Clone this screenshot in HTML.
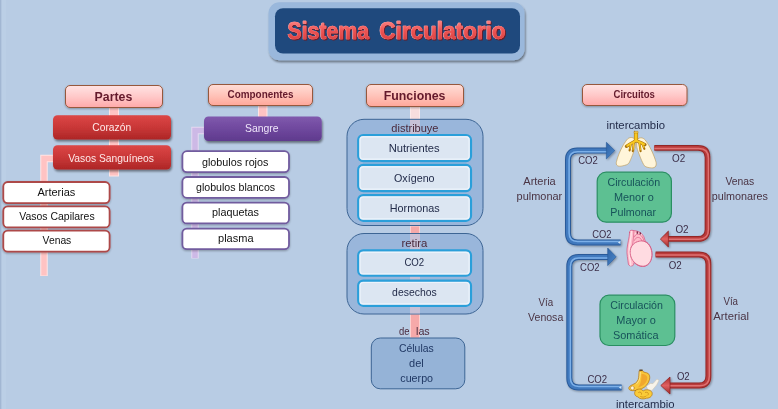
<!DOCTYPE html>
<html><head><meta charset="utf-8"><title>Sistema Circulatorio</title>
<style>
html,body{margin:0;padding:0;background:#b8cce4;}
body{width:778px;height:409px;overflow:hidden;font-family:"Liberation Sans",sans-serif;}
svg{display:block;font-family:"Liberation Sans",sans-serif;will-change:transform;}
</style></head><body>
<svg width="778" height="409" viewBox="0 0 778 409">
<defs>
<linearGradient id="gEdge" x1="0" x2="1" y1="0" y2="0"><stop offset="0" stop-color="#9fb5d2"/><stop offset="0.25" stop-color="#b3c7e0"/><stop offset="1" stop-color="#b8cce4"/></linearGradient>
<linearGradient id="gPink" x1="0" x2="0" y1="0" y2="1"><stop offset="0" stop-color="#ffe3e3"/><stop offset="0.5" stop-color="#ffc9c9"/><stop offset="1" stop-color="#ffa9a9"/></linearGradient>
<linearGradient id="gSalmon" x1="0" x2="0" y1="0" y2="1"><stop offset="0" stop-color="#ffddd6"/><stop offset="0.5" stop-color="#ffc4ba"/><stop offset="1" stop-color="#ffa79a"/></linearGradient>
<linearGradient id="gRed" x1="0" x2="0" y1="0" y2="1"><stop offset="0" stop-color="#dc4646"/><stop offset="0.5" stop-color="#c93737"/><stop offset="1" stop-color="#ad2626"/></linearGradient>
<linearGradient id="gPurple" x1="0" x2="0" y1="0" y2="1"><stop offset="0" stop-color="#8059ad"/><stop offset="0.5" stop-color="#6f489e"/><stop offset="1" stop-color="#5f3a8d"/></linearGradient>
<linearGradient id="gTitle" x1="0" x2="0" y1="0" y2="1"><stop offset="0" stop-color="#ff8f8f"/><stop offset="0.45" stop-color="#ee5555"/><stop offset="1" stop-color="#d23a3a"/></linearGradient>
<linearGradient id="gBlueV" x1="0" x2="1" y1="0" y2="0"><stop offset="0" stop-color="#2c5c9c"/><stop offset="0.5" stop-color="#4a84c6"/><stop offset="1" stop-color="#7fb2ea"/></linearGradient>
<linearGradient id="gArB" x1="0" x2="1" y1="0" y2="1"><stop offset="0" stop-color="#2f63a5"/><stop offset="1" stop-color="#4c88cc"/></linearGradient>
<linearGradient id="gArR" x1="0" x2="0" y1="0" y2="1"><stop offset="0" stop-color="#a82e2e"/><stop offset="0.5" stop-color="#e06060"/><stop offset="1" stop-color="#a02a2a"/></linearGradient>
<filter id="sh" x="-10%" y="-20%" width="120%" height="150%"><feGaussianBlur in="SourceAlpha" stdDeviation="1.2"/><feOffset dx="0.5" dy="1.5"/><feComponentTransfer><feFuncA type="linear" slope="0.45"/></feComponentTransfer><feMerge><feMergeNode/><feMergeNode in="SourceGraphic"/></feMerge></filter>
<filter id="shS" x="-10%" y="-20%" width="120%" height="150%"><feGaussianBlur in="SourceAlpha" stdDeviation="0.8"/><feOffset dx="0.3" dy="1"/><feComponentTransfer><feFuncA type="linear" slope="0.3"/></feComponentTransfer><feMerge><feMergeNode/><feMergeNode in="SourceGraphic"/></feMerge></filter>
<filter id="shP" x="-10%" y="-10%" width="120%" height="120%"><feGaussianBlur in="SourceAlpha" stdDeviation="0.9"/><feOffset dx="0.6" dy="1"/><feComponentTransfer><feFuncA type="linear" slope="0.35"/></feComponentTransfer><feMerge><feMergeNode/><feMergeNode in="SourceGraphic"/></feMerge></filter>
<filter id="blur1" x="-20%" y="-20%" width="140%" height="140%"><feGaussianBlur stdDeviation="0.45"/></filter>
</defs>
<rect x="0" y="0" width="778" height="409" fill="#b8cce4"/>
<rect x="0" y="0" width="1" height="409" fill="#a2b7d3"/><rect x="1" y="0" width="1" height="409" fill="#b2c6df"/><rect x="2" y="0" width="4" height="409" fill="#bbcfe6"/>

<g filter="url(#sh)"><rect x="268.5" y="2.2" width="256" height="58" rx="11" fill="#9ab8dc"/></g>
<rect x="275" y="8.2" width="245" height="45.4" rx="8" fill="#1f497d"/>
<text x="288.20" y="40.20" font-size="23.5" fill="#6e1a24" font-weight="bold" textLength="81.70" lengthAdjust="spacingAndGlyphs" stroke="#6e1a24" stroke-width="0.8" stroke-linejoin="round">Sistema</text>
<text x="287.20" y="39.00" font-size="23.5" fill="#ffb0b0" font-weight="bold" textLength="81.60" lengthAdjust="spacingAndGlyphs" stroke="#ffb0b0" stroke-width="0.6" stroke-linejoin="round">Sistema</text>
<text x="287.60" y="39.40" font-size="23.5" fill="url(#gTitle)" font-weight="bold" textLength="81.50" lengthAdjust="spacingAndGlyphs" stroke="url(#gTitle)" stroke-width="0.5" stroke-linejoin="round">Sistema</text>
<text x="380.00" y="40.20" font-size="23.5" fill="#6e1a24" font-weight="bold" textLength="126.44" lengthAdjust="spacingAndGlyphs" stroke="#6e1a24" stroke-width="0.8" stroke-linejoin="round">Circulatorio</text>
<text x="379.00" y="39.00" font-size="23.5" fill="#ffb0b0" font-weight="bold" textLength="126.34" lengthAdjust="spacingAndGlyphs" stroke="#ffb0b0" stroke-width="0.6" stroke-linejoin="round">Circulatorio</text>
<text x="379.40" y="39.40" font-size="23.5" fill="url(#gTitle)" font-weight="bold" textLength="126.24" lengthAdjust="spacingAndGlyphs" stroke="url(#gTitle)" stroke-width="0.5" stroke-linejoin="round">Circulatorio</text>
<rect x="109.5" y="107" width="9" height="69" fill="#ffc3c3" stroke="#ffe4e4" stroke-width="1"/>
<path d="M53.5 158.5 H44 V276" fill="none" stroke="#ffe4e4" stroke-width="7.5"/>
<path d="M53.5 158.5 H44 V275.5" fill="none" stroke="#ffc3c3" stroke-width="5.5"/>
<rect x="258.5" y="105" width="8.5" height="13" fill="#ffc3c3" stroke="#ffe4e4" stroke-width="1"/>
<path d="M204.5 130.5 H195 V258.5" fill="none" stroke="#e4d8f0" stroke-width="7.5"/>
<path d="M204.5 130.5 H195 V258" fill="none" stroke="#cdb9e6" stroke-width="5.5"/>
<rect x="410.5" y="106" width="9" height="14" fill="#f7dede" stroke="#fbeaea" stroke-width="1"/>
<rect x="410.5" y="226" width="9" height="8" fill="#f6a9a9" stroke="#fbd0d0" stroke-width="1"/>
<rect x="410.5" y="314" width="9" height="24" fill="#f6a9a9" stroke="#fbd0d0" stroke-width="1"/>
<g filter="url(#shS)"><rect x="65.5" y="85.5" width="97" height="22" rx="4.5" fill="url(#gPink)" stroke="#96583c" stroke-width="1"/></g>
<text x="94.60" y="101.15" font-size="12" fill="#641a2c" font-weight="bold" textLength="37.67" lengthAdjust="spacingAndGlyphs">Partes</text>
<g filter="url(#shS)"><rect x="208.5" y="84.5" width="104" height="21" rx="4.5" fill="url(#gSalmon)" stroke="#96583c" stroke-width="1"/></g>
<text x="227.50" y="98.00" font-size="11.2" fill="#641a2c" font-weight="bold" textLength="66.12" lengthAdjust="spacingAndGlyphs">Componentes</text>
<g filter="url(#shS)"><rect x="366.5" y="84.5" width="97" height="22" rx="4.5" fill="url(#gSalmon)" stroke="#96583c" stroke-width="1"/></g>
<text x="383.70" y="100.35" font-size="12.6" fill="#641a2c" font-weight="bold" textLength="61.81" lengthAdjust="spacingAndGlyphs">Funciones</text>
<g filter="url(#shS)"><rect x="582.5" y="84.5" width="104.5" height="21" rx="4.5" fill="url(#gPink)" stroke="#96583c" stroke-width="1"/></g>
<text x="613.50" y="98.15" font-size="11.3" fill="#641a2c" font-weight="bold" textLength="41.39" lengthAdjust="spacingAndGlyphs">Circuitos</text>
<g filter="url(#sh)"><rect x="53" y="115.2" width="118" height="24.3" rx="4.5" fill="url(#gRed)"/></g>
<text x="92.30" y="131.25" font-size="11" fill="#ffe9e9" textLength="38.80" lengthAdjust="spacingAndGlyphs">Corazón</text>
<g filter="url(#sh)"><rect x="53" y="145.2" width="118" height="24.3" rx="4.5" fill="url(#gRed)"/></g>
<text x="68.20" y="161.95" font-size="11" fill="#ffe9e9" textLength="85.81" lengthAdjust="spacingAndGlyphs">Vasos Sanguíneos</text>
<g filter="url(#sh)"><rect x="204" y="116.5" width="117.7" height="24.5" rx="4.5" fill="url(#gPurple)"/></g>
<text x="245.00" y="132.00" font-size="11" fill="#efe6fa" textLength="33.60" lengthAdjust="spacingAndGlyphs">Sangre</text>
<g filter="url(#shS)"><rect x="3.3" y="182.0" width="106.3" height="21.1" rx="4.5" fill="#ffffff" stroke="#ad4848" stroke-width="1.8"/></g>
<g filter="url(#shS)"><rect x="3.3" y="206.4" width="106.3" height="21.0" rx="4.5" fill="#ffffff" stroke="#ad4848" stroke-width="1.8"/></g>
<g filter="url(#shS)"><rect x="3.3" y="230.6" width="106.3" height="21.1" rx="4.5" fill="#ffffff" stroke="#ad4848" stroke-width="1.8"/></g>
<text x="37.40" y="196.35" font-size="11" fill="#111" textLength="37.91" lengthAdjust="spacingAndGlyphs">Arterias</text>
<text x="19.30" y="220.25" font-size="11" fill="#111" textLength="75.32" lengthAdjust="spacingAndGlyphs">Vasos Capilares</text>
<text x="42.60" y="244.15" font-size="11" fill="#111" textLength="28.70" lengthAdjust="spacingAndGlyphs">Venas</text>
<g filter="url(#shS)"><rect x="182.4" y="151.2" width="106.6" height="20.9" rx="4.5" fill="#ffffff" stroke="#715b9e" stroke-width="1.8"/></g>
<g filter="url(#shS)"><rect x="182.4" y="177.0" width="106.6" height="20.8" rx="4.5" fill="#ffffff" stroke="#715b9e" stroke-width="1.8"/></g>
<g filter="url(#shS)"><rect x="182.4" y="202.6" width="106.6" height="20.8" rx="4.5" fill="#ffffff" stroke="#715b9e" stroke-width="1.8"/></g>
<g filter="url(#shS)"><rect x="182.4" y="228.6" width="106.6" height="20.6" rx="4.5" fill="#ffffff" stroke="#715b9e" stroke-width="1.8"/></g>
<text x="201.90" y="165.75" font-size="11" fill="#111" textLength="66.51" lengthAdjust="spacingAndGlyphs">globulos rojos</text>
<text x="196.00" y="191.25" font-size="11" fill="#111" textLength="79.10" lengthAdjust="spacingAndGlyphs">globulos blancos</text>
<text x="212.10" y="215.55" font-size="11" fill="#111" textLength="46.82" lengthAdjust="spacingAndGlyphs">plaquetas</text>
<text x="218.00" y="241.85" font-size="11" fill="#111" textLength="35.53" lengthAdjust="spacingAndGlyphs">plasma</text>
<rect x="347" y="119.3" width="136" height="106.2" rx="17" fill="#8fafd8" fill-opacity="0.75" stroke="#3d6594" stroke-width="1"/>
<rect x="347" y="233.5" width="136" height="80.5" rx="17" fill="#8fafd8" fill-opacity="0.75" stroke="#3d6594" stroke-width="1"/>
<rect x="410" y="120" width="10" height="105" fill="#d8c4d4" opacity="0.75"/>
<rect x="410" y="234" width="10" height="79.5" fill="#d8c4d4" opacity="0.75"/>
<rect x="358.2" y="135.0" width="112.8" height="26.1" rx="5" fill="#dce6f2" stroke="#2a9fda" stroke-width="2.2"/><rect x="360.1" y="136.9" width="109" height="22.3" rx="3.4" fill="none" stroke="#ecf3fb" stroke-width="1.2"/>
<rect x="358.2" y="164.9" width="112.8" height="26.2" rx="5" fill="#dce6f2" stroke="#2a9fda" stroke-width="2.2"/><rect x="360.1" y="166.8" width="109" height="22.4" rx="3.4" fill="none" stroke="#ecf3fb" stroke-width="1.2"/>
<rect x="358.2" y="195.1" width="112.8" height="25.7" rx="5" fill="#dce6f2" stroke="#2a9fda" stroke-width="2.2"/><rect x="360.1" y="197.0" width="109" height="21.9" rx="3.4" fill="none" stroke="#ecf3fb" stroke-width="1.2"/>
<rect x="358.2" y="250.4" width="112.8" height="25.3" rx="5" fill="#dce6f2" stroke="#2a9fda" stroke-width="2.2"/><rect x="360.1" y="252.3" width="109" height="21.5" rx="3.4" fill="none" stroke="#ecf3fb" stroke-width="1.2"/>
<rect x="358.2" y="280.6" width="112.8" height="25.2" rx="5" fill="#dce6f2" stroke="#2a9fda" stroke-width="2.2"/><rect x="360.1" y="282.5" width="109" height="21.4" rx="3.4" fill="none" stroke="#ecf3fb" stroke-width="1.2"/>
<text x="391.30" y="132.25" font-size="11" fill="#4a2a3c" textLength="47.20" lengthAdjust="spacingAndGlyphs">distribuye</text>
<text x="388.70" y="152.00" font-size="11" fill="#232c4a" textLength="50.97" lengthAdjust="spacingAndGlyphs">Nutrientes</text>
<text x="394.00" y="182.05" font-size="11" fill="#232c4a" textLength="40.60" lengthAdjust="spacingAndGlyphs">Oxígeno</text>
<text x="389.80" y="212.25" font-size="11" fill="#232c4a" textLength="49.88" lengthAdjust="spacingAndGlyphs">Hormonas</text>
<text x="401.40" y="247.25" font-size="11" fill="#4a2a3c" textLength="25.98" lengthAdjust="spacingAndGlyphs">retira</text>
<text x="404.40" y="266.00" font-size="11" fill="#232c4a" textLength="19.81" lengthAdjust="spacingAndGlyphs">CO2</text>
<text x="392.10" y="296.25" font-size="11" fill="#232c4a" textLength="44.61" lengthAdjust="spacingAndGlyphs">desechos</text>
<text x="399.00" y="335.25" font-size="11" fill="#4a2a3c" textLength="10.52" lengthAdjust="spacingAndGlyphs">de</text>
<text x="416.00" y="335.25" font-size="11" fill="#4a2a3c" textLength="13.68" lengthAdjust="spacingAndGlyphs">las</text>
<rect x="371.3" y="338" width="93.5" height="50.8" rx="9" fill="#95b3d7" stroke="#3d6594" stroke-width="1"/>
<text x="399.00" y="352.00" font-size="11" fill="#203864" textLength="34.70" lengthAdjust="spacingAndGlyphs">Células</text>
<text x="409.10" y="367.20" font-size="11" fill="#203864" textLength="14.69" lengthAdjust="spacingAndGlyphs">del</text>
<text x="400.30" y="381.85" font-size="11" fill="#203864" textLength="32.78" lengthAdjust="spacingAndGlyphs">cuerpo</text>
<g filter="url(#shP)">
<path d="M620.6 242.5 H577.5 Q568 242.5 568 233.0 V160.1 Q568 150.6 577.5 150.6 H607" fill="none" stroke="#2a5a99" stroke-width="6.0" stroke-linejoin="round"/><path d="M620.6 242.5 H577.5 Q568 242.5 568 233.0 V160.1 Q568 150.6 577.5 150.6 H607" fill="none" stroke="#3f79be" stroke-width="4.0" stroke-linejoin="round" filter="url(#blur1)"/><path d="M620.6 241.4 H577.5 Q569.1 241.4 569.1 233.0 V160.1 Q569.1 151.7 577.5 151.7 H607" fill="none" stroke="#82b6ee" stroke-width="1.5" stroke-linejoin="round" opacity="0.9" filter="url(#blur1)"/>
<polygon points="606.4,142.3 614.8,150.6 606.4,158.9" fill="url(#gArB)" stroke="#2a5a99" stroke-width="0.6"/>
<path d="M621.6 387.5 H578.8 Q569.3 387.5 569.3 378.0 V266.5 Q569.3 257 578.8 257 H608" fill="none" stroke="#2a5a99" stroke-width="6.0" stroke-linejoin="round"/><path d="M621.6 387.5 H578.8 Q569.3 387.5 569.3 378.0 V266.5 Q569.3 257 578.8 257 H608" fill="none" stroke="#3f79be" stroke-width="4.0" stroke-linejoin="round" filter="url(#blur1)"/><path d="M621.6 386.4 H578.8 Q570.4 386.4 570.4 378.0 V266.5 Q570.4 258.1 578.8 258.1 H608" fill="none" stroke="#82b6ee" stroke-width="1.5" stroke-linejoin="round" opacity="0.9" filter="url(#blur1)"/>
<polygon points="607.7,248 616.1,256.8 607.7,265.5" fill="url(#gArB)" stroke="#2a5a99" stroke-width="0.6"/>
<polygon points="617.8,242.5 620.4,241 620.4,244" fill="#cfe2f7"/>
<polygon points="618.8,387.5 621.4,386 621.4,389" fill="#cfe2f7"/>
<path d="M654.3 147.8 H698.0 Q707.5 147.8 707.5 157.3 V229.4 Q707.5 238.9 698.0 238.9 H668" fill="none" stroke="#942828" stroke-width="5.7" stroke-linejoin="round"/><path d="M654.3 147.8 H698.0 Q707.5 147.8 707.5 157.3 V229.4 Q707.5 238.9 698.0 238.9 H668" fill="none" stroke="#ba3a3a" stroke-width="3.7" stroke-linejoin="round" filter="url(#blur1)"/><path d="M654.3 148.4 H698.9 Q708.4 148.4 708.4 157.9 V229.70000000000002 Q708.4 239.20000000000002 698.9 239.20000000000002 H668" fill="none" stroke="#e27878" stroke-width="1.5" stroke-linejoin="round" opacity="0.9" filter="url(#blur1)"/>
<polygon points="668.4,231.1 660.4,239 668.4,247.1" fill="url(#gArR)" stroke="#8e2222" stroke-width="0.7"/>
<path d="M655.6 254.5 H698.9 Q708.4 254.5 708.4 264.0 V376.0 Q708.4 385.5 698.9 385.5 H669.5" fill="none" stroke="#942828" stroke-width="5.9" stroke-linejoin="round"/><path d="M655.6 254.5 H698.9 Q708.4 254.5 708.4 264.0 V376.0 Q708.4 385.5 698.9 385.5 H669.5" fill="none" stroke="#ba3a3a" stroke-width="3.9000000000000004" stroke-linejoin="round" filter="url(#blur1)"/><path d="M655.6 255.1 H699.8 Q709.3 255.1 709.3 264.6 V376.3 Q709.3 385.8 699.8 385.8 H669.5" fill="none" stroke="#e27878" stroke-width="1.5" stroke-linejoin="round" opacity="0.9" filter="url(#blur1)"/>
<polygon points="670,377 660.8,385.5 670,394" fill="url(#gArR)" stroke="#8e2222" stroke-width="0.7"/>
</g>
<rect x="597.2" y="172.2" width="74.2" height="50" rx="9" fill="#5dc092" stroke="#2a8f62" stroke-width="1.2"/>
<rect x="600" y="295.2" width="74.8" height="50.3" rx="9" fill="#5dc092" stroke="#2a8f62" stroke-width="1.2"/>
<text x="607.50" y="186.25" font-size="11" fill="#17525a" textLength="52.62" lengthAdjust="spacingAndGlyphs">Circulación</text>
<text x="613.90" y="201.25" font-size="11" fill="#17525a" textLength="39.98" lengthAdjust="spacingAndGlyphs">Menor o</text>
<text x="610.30" y="215.95" font-size="11" fill="#17525a" textLength="45.80" lengthAdjust="spacingAndGlyphs">Pulmonar</text>
<text x="610.30" y="309.35" font-size="11" fill="#17525a" textLength="52.62" lengthAdjust="spacingAndGlyphs">Circulación</text>
<text x="616.30" y="324.25" font-size="11" fill="#17525a" textLength="39.53" lengthAdjust="spacingAndGlyphs">Mayor o</text>
<text x="613.00" y="339.25" font-size="11" fill="#17525a" textLength="45.48" lengthAdjust="spacingAndGlyphs">Somática</text>
<text x="606.40" y="128.85" font-size="11" fill="#232c4a" textLength="58.59" lengthAdjust="spacingAndGlyphs">intercambio</text>
<text x="615.90" y="407.55" font-size="11" fill="#232c4a" textLength="58.69" lengthAdjust="spacingAndGlyphs">intercambio</text>
<text x="578.20" y="164.25" font-size="11" fill="#3b2e48" textLength="19.61" lengthAdjust="spacingAndGlyphs">CO2</text>
<text x="672.10" y="162.15" font-size="11" fill="#3b2e48" textLength="13.19" lengthAdjust="spacingAndGlyphs">O2</text>
<text x="592.20" y="238.45" font-size="11" fill="#3b2e48" textLength="19.31" lengthAdjust="spacingAndGlyphs">CO2</text>
<text x="675.40" y="233.35" font-size="11" fill="#3b2e48" textLength="13.19" lengthAdjust="spacingAndGlyphs">O2</text>
<text x="580.10" y="271.00" font-size="11" fill="#3b2e48" textLength="19.51" lengthAdjust="spacingAndGlyphs">CO2</text>
<text x="668.80" y="269.35" font-size="11" fill="#3b2e48" textLength="12.99" lengthAdjust="spacingAndGlyphs">O2</text>
<text x="587.40" y="383.20" font-size="11" fill="#3b2e48" textLength="19.71" lengthAdjust="spacingAndGlyphs">CO2</text>
<text x="676.90" y="380.20" font-size="11" fill="#3b2e48" textLength="12.79" lengthAdjust="spacingAndGlyphs">O2</text>
<text x="523.30" y="185.15" font-size="11" fill="#4a3444" textLength="32.45" lengthAdjust="spacingAndGlyphs">Arteria</text>
<text x="516.60" y="199.55" font-size="11" fill="#4a3444" textLength="45.59" lengthAdjust="spacingAndGlyphs">pulmonar</text>
<text x="725.50" y="185.35" font-size="11" fill="#4a3444" textLength="28.80" lengthAdjust="spacingAndGlyphs">Venas</text>
<text x="711.70" y="199.85" font-size="11" fill="#4a3444" textLength="56.30" lengthAdjust="spacingAndGlyphs">pulmonares</text>
<text x="538.50" y="306.25" font-size="11" fill="#4a3444" textLength="14.66" lengthAdjust="spacingAndGlyphs">Vía</text>
<text x="528.10" y="321.25" font-size="11" fill="#4a3444" textLength="35.16" lengthAdjust="spacingAndGlyphs">Venosa</text>
<text x="723.40" y="305.05" font-size="11" fill="#4a3444" textLength="14.66" lengthAdjust="spacingAndGlyphs">Vía</text>
<text x="713.30" y="320.35" font-size="11" fill="#4a3444" textLength="35.77" lengthAdjust="spacingAndGlyphs">Arterial</text>
<!-- lungs -->
<g id="lungs" stroke-linejoin="round" stroke-linecap="round">
<path d="M634.6 139 C632.6 136.8 629.2 137 627 139.6 C622.3 145.6 618.2 154.5 616.4 162 C615.6 165.8 618.3 166.8 622 166 C625.6 165.2 628.2 164.6 629.2 162.6 C631.2 158.6 633.4 153 634.8 148.4 C635.6 145.4 635.6 141 634.6 139 Z" fill="#fff5da" stroke="#c2a060" stroke-width="0.7" stroke-dasharray="1.6 0.7"/>
<path d="M637.4 139.4 C639.6 137 643 137.4 645.2 140 C649.8 146 653.8 154.5 656 162 C657 166 655 168.2 651.6 167.9 C648 167.6 645.4 167.2 644 165.2 C641.4 160.6 639.2 154.6 637.4 149.4 C636.4 146.4 636.4 141.4 637.4 139.4 Z" fill="#fff5da" stroke="#c2a060" stroke-width="0.7" stroke-dasharray="1.6 0.7"/>
<g fill="none" stroke="#a8720c" stroke-width="4.2">
<path d="M636 132.8 V141" stroke-linecap="butt"/>
<path d="M636 140.6 L630.8 143.6 L626.4 146.4" stroke-width="3.2"/>
<path d="M636 140.6 L641.2 142.8 L645 144.6" stroke-width="3.2"/>
<path d="M630.8 144 L629.6 150.4" stroke-width="2.1"/>
<path d="M633.8 142.6 L632.8 151.2" stroke-width="2.1"/>
<path d="M639.4 142.8 L640.6 151.2" stroke-width="2.1"/>
<path d="M642.4 144 L644.4 148.8" stroke-width="2.1"/>
</g>
<g fill="none" stroke="#f8c820" stroke-width="3">
<path d="M636 132.6 V141" stroke-linecap="butt"/>
<path d="M636 140.6 L630.8 143.6 L627.4 145.7" stroke-width="2.1"/>
<path d="M636 140.6 L641.2 142.8 L644 144.1" stroke-width="2.1"/>
<path d="M630.8 144 L629.9 148.8" stroke-width="1.1"/>
<path d="M633.8 142.6 L633 149.8" stroke-width="1.1"/>
<path d="M639.4 142.8 L640.4 149.8" stroke-width="1.1"/>
<path d="M642.4 144 L643.9 147.6" stroke-width="1.1"/>
</g>
<rect x="633.9" y="131.3" width="4.2" height="1.7" rx="0.6" fill="#fbd95a" stroke="#a8720c" stroke-width="0.5"/>
</g>
<!-- heart -->
<g id="heart" stroke-linejoin="round" stroke-linecap="round">
<path d="M629.6 232.6 C629.4 230.6 630.6 230.1 632 230.3 L634.2 230.6 C638.2 230.8 642 233 643.8 236.6 L645.4 241.4 C649.6 243.6 652.2 248.6 652 254.8 C651.8 262.2 647.4 266.9 642.2 266.5 C639 266.2 636.2 264.8 634 262.4 L633.6 264.6 C633.4 266.4 628.8 266.4 628.4 264.2 C627.8 259 626.6 254 627 249 C627.4 243.6 629.4 238 629.6 232.6 Z" fill="#ffbccb" stroke="#d2527c" stroke-width="0.7"/>
<path d="M633.9 231 C633.6 240 632 246 632.2 252" fill="none" stroke="#d2527c" stroke-width="0.6"/>
<path d="M631.4 231.5 C631.2 240 629 246 629.2 252 C629.4 257 630.4 261 630.8 265.2" fill="none" stroke="#ffe0e6" stroke-width="1.4"/>
<path d="M634.4 236.8 C635.6 233.6 639 233.4 641.2 235.6 C642.8 237.2 643.6 239.2 644 241.2" fill="none" stroke="#d2527c" stroke-width="0.6"/>
<path d="M634.4 240.4 C635.8 237 638.6 236.6 640.4 238.4 C641.4 239.4 641.8 240.4 642 241.4" fill="none" stroke="#d2527c" stroke-width="0.6"/>
<path d="M635 233.8 C637 232.4 640 233 641.8 235" fill="none" stroke="#ffe0e6" stroke-width="1"/>
<rect x="636.6" y="231.4" width="1.5" height="2.4" fill="#7c2848"/>
<rect x="639.6" y="232.4" width="1.4" height="2" fill="#7c2848"/>
<path d="M640.4 241 C646.6 240.2 652 246 651.9 254.8 C651.8 262 647.4 266.6 642.3 266.2 C636.4 265.8 630.4 260.2 630.2 252.6 C630 246 634.2 241.8 640.4 241 Z" fill="#ffdbe1" stroke="#d2527c" stroke-width="0.8" stroke-dasharray="2 0.5"/>
</g>
<!-- stomach -->
<g id="stomach" stroke-linejoin="round" stroke-linecap="round">
<path d="M646.6 386 L650.4 383.4 L653 383.6 L657 379 L659 380.4 L656.6 385 L652 390.4 L648 390 Z" fill="#f7f3ea" stroke="#cfc6b4" stroke-width="0.6"/>
<path d="M639.5 370.8 L642.4 370.6 C643 372 644.6 372.4 646.6 372.8 C649.4 373.4 650.2 376.4 649.6 379.2 C648.6 383.6 645.6 387.2 641.4 388.8 C637.4 390.4 633 391.2 630.6 390.4 C628.6 389.6 628.2 387.8 629.6 386.4 C631 385 633.6 384.4 635.6 383 C638 381.2 638.8 378.6 638.8 375.6 Z" fill="#f9c63a" stroke="#b07414" stroke-width="0.7"/>
<path d="M641.4 374 C644.6 373.8 647.8 375.6 647.2 379 C646.4 383.2 642.6 386.4 637.6 387.6 C640.8 384.6 641.6 380 641.4 374 Z" fill="#ef9f2a" opacity="0.8"/>
<path d="M640.3 372.4 C640 377.5 639.8 381 636.4 384" fill="none" stroke="#fde79a" stroke-width="0.9"/>
<rect x="639.4" y="369.5" width="3.2" height="1.4" fill="#5e4220"/>
<circle cx="632.4" cy="388" r="1.9" fill="#fff7dc" stroke="#b07414" stroke-width="0.5"/>
<path d="M635.4 390.6 C637.4 388.4 641.6 388.6 643.2 391 C645.2 389 650.6 389.4 652 392.4 C653 395.4 650.4 398.2 646.6 398.2 C643.6 399.4 639.4 399.2 637.8 396.8 C634.8 396.4 633.6 393 635.4 390.6 Z" fill="#facb38" stroke="#b07414" stroke-width="0.7"/>
<path d="M638.6 392.4 C640.2 391.4 642 392.4 641.6 394.2 M645.4 392.4 C647.6 391.6 649.2 393.2 648 395 M640.6 396.6 C642.6 397.6 645 397.2 646.2 396" fill="none" stroke="#c48414" stroke-width="0.7"/>
</g>

</svg></body></html>
